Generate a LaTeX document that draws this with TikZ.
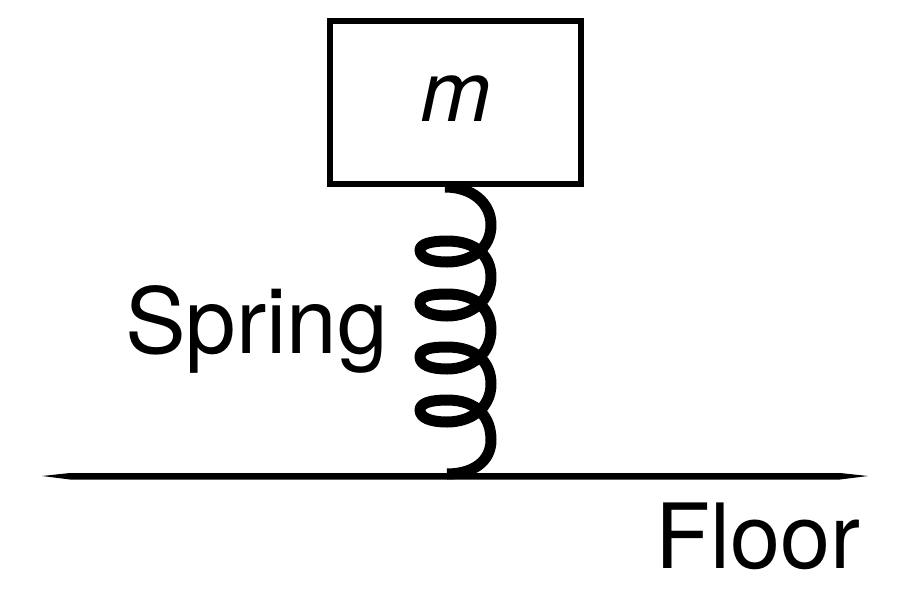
\documentclass[tikz,border=0pt]{standalone}
\usepackage{fontspec}
\setmainfont{TeX Gyre Heros}
\tikzset{
  lbl/.style={inner sep=0pt,text=black},
  massbox/.style={draw=black,line width=6pt,minimum width=251pt,minimum height=163pt,inner sep=0pt},
  coil/.style={draw=black,line width=11pt,line join=round}
}
\begin{document}
\begin{tikzpicture}[x=1pt,y=-1pt]
\useasboundingbox (0,0) rectangle (900,603);
\node[massbox] (mass) at (455.5,102.5) {};
\node[lbl,font=\itshape\fontsize{85}{85}\selectfont] (mlabel) at (456,99) {m};
\node[lbl,font=\fontsize{91}{91}\selectfont,anchor=base west] (spring) at (125,353) {Spring};
\node[lbl,font=\fontsize{90}{90}\selectfont,anchor=base west] (floorlabel) at (655,568) {Floor};
\coordinate (floorL) at (42,476);
\coordinate (floorR) at (868,476);
\fill[black] (floorL) -- (70,473) -- (840,473) -- (floorR) -- (840,479.5) -- (70,479.5) -- cycle;
\coordinate (springTop) at (445,187);
\coordinate (springEnd) at (447,474);
\draw[coil] (springTop) .. controls (472,187) and (491,203) .. (491,225)
  .. controls (491,248) and (472,262) .. (447,262)
  .. controls (431,262) and (420,258) .. (420,250)
  .. controls (420,244) and (431,241) .. (447,241)
  .. controls (478,241) and (491,258) .. (491,277)
  .. controls (491,300) and (472,316) .. (447,316)
  .. controls (431,316) and (420,311) .. (420,303)
  .. controls (420,296) and (431,294) .. (447,294)
  .. controls (478,294) and (491,311) .. (491,330)
  .. controls (491,353) and (472,369) .. (447,369)
  .. controls (431,369) and (420,365) .. (420,357)
  .. controls (420,349) and (431,347) .. (447,347)
  .. controls (478,347) and (491,364) .. (491,384)
  .. controls (491,407) and (472,422) .. (447,422)
  .. controls (431,422) and (420,418) .. (420,410)
  .. controls (420,403) and (431,400) .. (447,400)
  .. controls (478,400) and (491,418) .. (491,440)
  .. controls (491,462) and (472,474) .. (springEnd);
\end{tikzpicture}
\end{document}
